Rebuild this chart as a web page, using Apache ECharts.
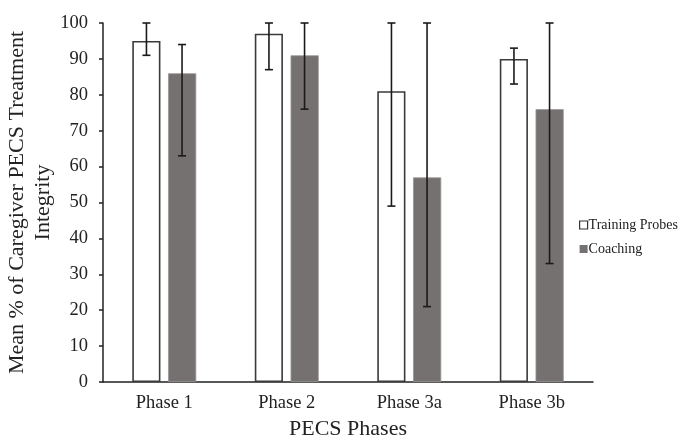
<!DOCTYPE html>
<html>
<head>
<meta charset="utf-8">
<script src="https://cdn.jsdelivr.net/npm/echarts@6/dist/echarts.min.js"></script>
<style>html,body{margin:0;padding:0;background:#fff}#c{width:684px;height:439px}</style>
</head>
<body>
<div id="c"></div>
<script>
const categories = ['Phase 1', 'Phase 2', 'Phase 3a', 'Phase 3b'];
const trainingMeans = [95, 97, 81, 90];
const trainingLow = [91, 87, 49, 83];
const trainingHigh = [100, 100, 100, 93];
const coachingMeans = [86, 91, 57, 76];
const coachingLow = [63, 76, 21, 33];
const coachingHigh = [94, 100, 100, 100];
const yTicks = [0, 10, 20, 30, 40, 50, 60, 70, 80, 90, 100];

const FONT = '"Liberation Serif", "Times New Roman", serif';
const OFFSET = 0.1453;

function errorSeries(name, low, high, sign) {
  return {
    type: 'custom',
    name: name + ' error',
    z: 10,
    data: categories.map((c, i) => [i, low[i], high[i]]),
    encode: { x: 0, y: [1, 2] },
    renderItem: function (params, api) {
      const idx = api.value(0);
      const band = api.size([1, 0])[0];
      const lo = api.coord([idx, api.value(1)]);
      const hi = api.coord([idx, api.value(2)]);
      const x = lo[0] + sign * OFFSET * band;
      const cap = 4;
      const style = { stroke: '#1a1a1a', lineWidth: 1.6 };
      return {
        type: 'group',
        children: [
          { type: 'line', shape: { x1: x, y1: lo[1], x2: x, y2: hi[1] }, style: style },
          { type: 'line', shape: { x1: x - cap, y1: lo[1], x2: x + cap, y2: lo[1] }, style: style },
          { type: 'line', shape: { x1: x - cap, y1: hi[1], x2: x + cap, y2: hi[1] }, style: style }
        ]
      };
    }
  };
}

const chart = echarts.init(document.getElementById('c'), null, { renderer: 'canvas' });
chart.setOption({
  animation: false,
  backgroundColor: '#ffffff',
  textStyle: { fontFamily: FONT },
  grid: { left: 103, right: 91, top: 23, bottom: 57, containLabel: false, outerBoundsMode: 'none' },
  legend: {
    orient: 'vertical',
    left: 574,
    top: 213,
    itemWidth: 8,
    itemHeight: 8,
    itemGap: 10,
    textStyle: { fontFamily: FONT, fontSize: 14, color: '#222', padding: [0, 0, 0, -4] },
    data: [
      { name: 'Training Probes', icon: 'rect', itemStyle: { color: '#fff', borderColor: '#333', borderWidth: 1.2 } },
      { name: 'Coaching', icon: 'rect', itemStyle: { color: '#757171', borderWidth: 0 } }
    ]
  },
  xAxis: {
    type: 'category',
    data: categories,
    axisLine: { lineStyle: { color: '#222', width: 1.5 } },
    axisTick: { show: false },
    axisLabel: { fontFamily: FONT, fontSize: 18.5, color: '#222', margin: 12 },
    name: 'PECS Phases',
    nameLocation: 'middle',
    nameGap: 36,
    nameTextStyle: { fontFamily: FONT, fontSize: 22, color: '#222' }
  },
  yAxis: {
    type: 'value',
    min: 0,
    max: 100,
    interval: 10,
    axisLine: { show: true, lineStyle: { color: '#222', width: 1.5 } },
    axisTick: { show: true, length: 4, lineStyle: { color: '#222', width: 1.5 } },
    splitLine: { show: false },
    axisLabel: { fontFamily: FONT, fontSize: 18.5, color: '#222', margin: 15,
      formatter: v => (yTicks.indexOf(v) >= 0 ? String(v) : '') },
    name: 'Mean % of Caregiver PECS Treatment\nIntegrity',
    nameLocation: 'middle',
    nameGap: 47,
    nameMoveOverlap: false,
    nameTextStyle: { fontFamily: FONT, fontSize: 22, color: '#222', lineHeight: 26 }
  },
  series: [
    {
      name: 'Training Probes',
      type: 'bar',
      data: trainingMeans,
      barWidth: '23%',
      barGap: '27%',
      itemStyle: { color: '#ffffff', borderColor: '#3a3a3a', borderWidth: 1.6 }
    },
    {
      name: 'Coaching',
      type: 'bar',
      data: coachingMeans,
      barWidth: '23%',
      itemStyle: { color: '#757171', borderColor: '#9a9797', borderWidth: 0.8 }
    },
    errorSeries('Training Probes', trainingLow, trainingHigh, -1),
    errorSeries('Coaching', coachingLow, coachingHigh, 1)
  ]
});
</script>
</body>
</html>
